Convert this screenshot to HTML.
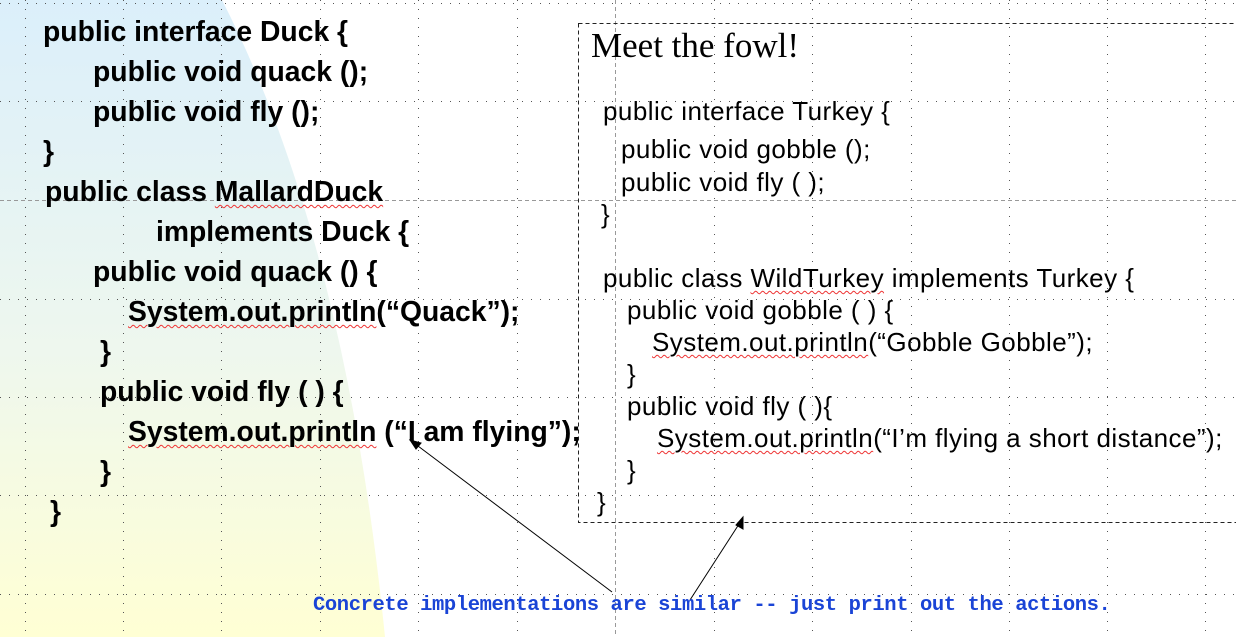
<!DOCTYPE html>
<html><head><meta charset="utf-8"><style>
html,body{margin:0;padding:0}
body{width:1236px;height:637px;position:relative;overflow:hidden;background:#fff}
.l{position:absolute;white-space:nowrap;font-family:"Liberation Sans",Arial,sans-serif;font-weight:bold;font-size:28.3px;letter-spacing:0px;line-height:30px;color:#000}
.r{position:absolute;white-space:nowrap;font-family:"Liberation Sans",Arial,sans-serif;font-size:26px;letter-spacing:0.45px;line-height:26px;color:#000}
.w{text-decoration:underline wavy #e33;text-decoration-thickness:1px;text-underline-offset:3px}
</style></head><body>
<svg width="1236" height="637" style="position:absolute;left:0;top:0">
<defs>
<linearGradient id="g" x1="0" y1="0" x2="0" y2="1">
<stop offset="0" stop-color="#dbeffb"/>
<stop offset="0.55" stop-color="#eef7ee"/>
<stop offset="1" stop-color="#ffffd4"/>
</linearGradient>
</defs>
<path d="M0,0 L222,0 Q345,240 385,637 L0,637 Z" fill="url(#g)"/>
<g stroke="#555" stroke-width="1" stroke-dasharray="1 8" fill="none">
<line x1="0" y1="3.5" x2="1236" y2="3.5"/>
<line x1="0" y1="101.5" x2="1236" y2="101.5"/>
<line x1="0" y1="299.5" x2="1236" y2="299.5"/>
<line x1="0" y1="397.5" x2="1236" y2="397.5"/>
<line x1="0" y1="495.5" x2="1236" y2="495.5"/>
<line x1="0" y1="594.5" x2="1236" y2="594.5"/>
<line x1="25.5" y1="0" x2="25.5" y2="637"/>
<line x1="123.5" y1="0" x2="123.5" y2="637"/>
<line x1="221.5" y1="0" x2="221.5" y2="637"/>
<line x1="320.5" y1="0" x2="320.5" y2="637"/>
<line x1="418.5" y1="0" x2="418.5" y2="637"/>
<line x1="517.5" y1="0" x2="517.5" y2="637"/>
<line x1="714.5" y1="0" x2="714.5" y2="637"/>
<line x1="812.5" y1="0" x2="812.5" y2="637"/>
<line x1="911.5" y1="0" x2="911.5" y2="637"/>
<line x1="1009.5" y1="0" x2="1009.5" y2="637"/>
<line x1="1107.5" y1="0" x2="1107.5" y2="637"/>
<line x1="1205.5" y1="0" x2="1205.5" y2="637"/>
</g>
<g stroke="#999" stroke-width="1" stroke-dasharray="4 3" fill="none">
<line x1="0" y1="200.5" x2="1236" y2="200.5"/>
<line x1="615.5" y1="0" x2="615.5" y2="637"/>
</g>
<rect x="578.5" y="23.5" width="700" height="499" fill="none" stroke="#222" stroke-width="1" stroke-dasharray="4 3"/>
<g stroke="#000" stroke-width="1" fill="#000">
<line x1="612" y1="592" x2="414" y2="443"/>
<polygon points="410,440 421,443 416,449"/>
<line x1="690" y1="600" x2="741" y2="521"/>
<polygon points="743,517 743,529 736,525"/>
</g>
</svg>

<div class="l" style="left:43px;top:16px">public interface Duck {</div>
<div class="l" style="left:93px;top:56px">public void quack ();</div>
<div class="l" style="left:93px;top:96px">public void fly ();</div>
<div class="l" style="left:43px;top:136px">}</div>
<div class="l" style="left:45px;top:176px">public class <span class="w">MallardDuck</span></div>
<div class="l" style="left:156px;top:216px">implements Duck {</div>
<div class="l" style="left:93px;top:256px">public void quack () {</div>
<div class="l" style="left:128px;top:296px"><span class="w">System.out.println</span>(“Quack”);</div>
<div class="l" style="left:100px;top:336px">}</div>
<div class="l" style="left:100px;top:376px">public void fly ( ) {</div>
<div class="l" style="left:128px;top:416px"><span class="w">System.out.println</span> (“I am flying”);</div>
<div class="l" style="left:100px;top:456px">}</div>
<div class="l" style="left:50px;top:496px">}</div>

<div style="position:absolute;left:591px;top:26px;font-family:'Liberation Serif',serif;font-size:35px;line-height:40px;white-space:nowrap">Meet the fowl!</div>
<div class="r" style="left:603px;top:98px">public interface Turkey {</div>
<div class="r" style="left:621px;top:136px">public void gobble ();</div>
<div class="r" style="left:621px;top:169px">public void fly ( );</div>
<div class="r" style="left:601px;top:201px">}</div>
<div class="r" style="left:603px;top:265px">public class <span class="w">WildTurkey</span> implements Turkey {</div>
<div class="r" style="left:627px;top:297px">public void gobble ( ) {</div>
<div class="r" style="left:652px;top:329px"><span class="w">System.out.println</span>(“Gobble Gobble”);</div>
<div class="r" style="left:627px;top:361px">}</div>
<div class="r" style="left:627px;top:393px">public void fly ( ){</div>
<div class="r" style="left:657px;top:425px"><span class="w">System.out.println</span>(“I’m flying a short distance”);</div>
<div class="r" style="left:627px;top:457px">}</div>
<div class="r" style="left:597px;top:489px">}</div>

<div style="position:absolute;left:313px;top:592px;font-family:'Liberation Mono',monospace;font-weight:bold;font-size:20.5px;line-height:28px;color:#1a44d6;white-space:nowrap;letter-spacing:-0.4px">Concrete implementations are similar -- just print out the actions.</div>
</body></html>
